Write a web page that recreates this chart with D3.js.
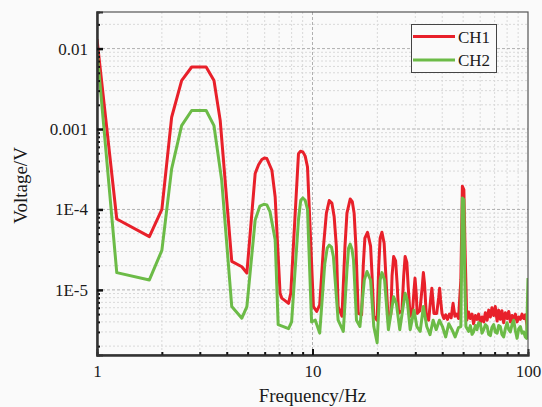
<!DOCTYPE html>
<html><head><meta charset="utf-8">
<script src="https://cdn.jsdelivr.net/npm/d3@7"></script>
<style>
html,body{margin:0;padding:0;background:#fafafa;}
svg{display:block;}
text{font-family:"Liberation Serif","Times New Roman",serif;fill:#1a1a1a;}
</style></head>
<body>
<svg id="chart" width="542" height="407"></svg>
<script>
// ---- data ----
const seriesNames = ["CH1", "CH2"];
const xTickLabels = ["1", "10", "100"];
const xTickValues = [1, 10, 100];
const yTickLabels = ["0.01", "0.001", "1E-4", "1E-5"];
const yTickValues = [0.01, 0.001, 1e-4, 1e-5];

const ch1Freq = [1.00,1.235,1.75,2.00,2.22,2.47,2.75,3.21,3.49,3.73,4.22,4.70,4.96,5.42,5.62,5.82,5.98,6.14,6.48,6.71,7.07,7.20,7.74,7.93,
  8.61,8.80,9.02,9.25,9.48,10.1,10.46,10.8,11.25,11.6,11.96,12.3,12.6,12.9,13.15,13.7,14.15,14.45,14.96,15.3,15.6,15.9,16.3,16.9,17.2,17.5,18.0,18.6,18.9,19.25,19.95,
  20.3,20.6,21.0,21.5,21.9,22.4,23.1,23.4,23.8,24.3,24.7,25.1,26.0,26.5,26.9,27.4,27.8,28.4,29.2,29.6,29.9,30.3,30.6,31.5,32.3,32.7,33.1,33.7,34.6,35.4,35.8,36.2,36.6,
  37.7,38.5,38.9,39.3,39.9,40.7,41.5,42.3,43.2,44.0,44.9,45.8,46.7,47.6,48.8,49.6,50.4,51.0,52.0,53.0,54.0,55.0,55.9,57.0,58.0,59.0,60.1,61.2,62.3,63.4,64.6,65.7,
  66.9,68.0,69.3,70.5,71.9,73.1,74.4,75.7,77.1,78.5,80.0,81.4,82.8,84.3,85.8,87.4,89.0,90.6,92.2,93.8,95.5,97.2,99.0,100];
const ch1Volt = [0.0131,7.6e-5,4.6e-5,1.0e-4,1.4e-3,4.0e-3,5.9e-3,5.9e-3,4.0e-3,1.28e-3,2.26e-5,1.94e-5,1.62e-5,2.8e-4,3.6e-4,4.17e-4,4.35e-4,4.3e-4,3.07e-4,1.43e-4,9.1e-6,7.9e-6,6.8e-6,9.1e-6,
  4.94e-4,5.3e-4,5.2e-4,4.6e-4,3.37e-4,6.2e-6,5.4e-6,6.5e-6,3.5e-5,9.0e-5,1.29e-4,1.2e-4,8.2e-5,3.5e-5,6.2e-6,4.7e-6,3.5e-5,9.0e-5,1.35e-4,1.25e-4,9.0e-5,3.5e-5,5.1e-6,4.9e-6,2.0e-5,4.4e-5,5.2e-5,3.5e-5,1.5e-5,4.7e-6,4.2e-6,
  2.0e-5,4.4e-5,5.2e-5,3.8e-5,1.5e-5,4.7e-6,5.0e-6,1.5e-5,2.6e-5,2.3e-5,1.2e-5,5.1e-6,5.5e-6,1.5e-5,2.6e-5,2.2e-5,1.1e-5,4.7e-6,6.0e-6,1.0e-5,1.4e-5,9.0e-6,5.1e-6,5.5e-6,1.1e-5,1.64e-5,1.2e-5,5.1e-6,4.2e-6,8.0e-6,1.05e-5,7.5e-6,5.1e-6,
  5.1e-6,8.0e-6,1.05e-5,7.5e-6,5.1e-6,4.4e-6,4.9e-6,4.3e-6,5.0e-6,4.5e-6,6.8e-6,4.7e-6,5.0e-6,4.4e-6,1.33e-5,1.94e-4,1.75e-4,3.5e-5,4.2e-6,5.3e-6,4.4e-6,5.0e-6,3.8e-6,4.8e-6,4.3e-6,5.0e-6,3.9e-6,4.6e-6,4.0e-6,5.2e-6,4.2e-6,5.6e-6,
  4.6e-6,6.0e-6,4.8e-6,6.2e-6,4.1e-6,5.6e-6,4.3e-6,5.5e-6,3.9e-6,5.2e-6,4.4e-6,5.4e-6,4.0e-6,4.8e-6,4.2e-6,5.0e-6,4.0e-6,4.6e-6,4.3e-6,5.0e-6,4.4e-6,4.9e-6,3.6e-6,2.5e-6];

const ch2Freq = [1.00,1.235,1.75,2.00,2.22,2.47,2.75,3.21,3.49,3.79,4.22,4.70,4.96,5.42,5.70,5.95,6.14,6.35,6.71,6.93,7.33,7.74,8.00,
  8.61,8.82,9.02,9.25,9.48,9.90,10.3,10.8,11.4,11.7,11.96,12.25,12.5,13.15,13.9,14.45,14.7,14.96,15.25,15.5,16.0,16.6,17.4,17.9,18.6,19.25,19.95,20.6,21.0,21.6,
  22.5,23.8,24.5,25.4,26.9,27.5,28.4,29.6,30.5,31.6,32.7,33.9,35.1,36.3,37.5,38.8,40.1,41.5,42.9,44.4,45.9,47.6,48.8,49.3,49.6,50.4,
  50.9,51.5,53.0,54.0,55.0,55.9,57.0,58.0,59.0,60.1,61.2,62.3,63.4,64.6,65.7,66.9,68.0,69.3,70.5,71.9,73.1,74.4,75.7,77.1,78.5,80.0,
  81.4,82.8,84.3,85.8,87.4,89.0,90.6,92.2,93.8,95.5,97.2,98.5,100];
const ch2Volt = [9.6e-3,1.64e-5,1.33e-5,3.1e-5,3.2e-4,1.1e-3,1.7e-3,1.7e-3,1.1e-3,2.3e-4,6.2e-6,4.45e-6,6.2e-6,7.4e-5,1.1e-4,1.16e-4,1.14e-4,9.4e-5,4.2e-5,3.7e-6,3.5e-6,3.3e-6,4.0e-6,
  7.5e-5,1.3e-4,1.39e-4,1.3e-4,1.0e-4,4.0e-6,4.2e-6,2.9e-6,2.1e-5,3.3e-5,3.6e-5,3.4e-5,2.6e-5,4.2e-6,3.05e-6,1.77e-5,3.3e-5,3.7e-5,3.2e-5,2.36e-5,4.2e-6,3.5e-6,1.33e-5,1.69e-5,1.33e-5,3.5e-6,2.2e-6,1.33e-5,1.64e-5,1.33e-5,
  3.2e-6,8.2e-6,6.8e-6,3.2e-6,9.1e-6,7.5e-6,3.2e-6,5.6e-6,3.5e-6,3.05e-6,6.2e-6,3.5e-6,2.77e-6,4.2e-6,3.2e-6,4.2e-6,3.5e-6,2.6e-6,3.8e-6,3.2e-6,2.6e-6,3.4e-6,3.5e-6,3.4e-5,1.39e-4,1.32e-4,
  1.33e-5,3.5e-6,3.05e-6,3.6e-6,2.8e-6,3.0e-6,3.6e-6,3.2e-6,3.9e-6,3.8e-6,2.9e-6,3.2e-6,3.7e-6,3.5e-6,2.8e-6,2.7e-6,3.4e-6,3.7e-6,3.0e-6,2.9e-6,3.6e-6,3.5e-6,2.8e-6,2.6e-6,3.3e-6,3.9e-6,
  3.2e-6,3.0e-6,3.7e-6,4.2e-6,3.1e-6,2.5e-6,3.3e-6,3.5e-6,2.9e-6,3.0e-6,2.6e-6,2.5e-6,1.4e-5];

const seriesColors = ["#e8202a", "#6cbb47"];

// ---- layout ----
const svg = d3.select("#chart");
const L = 97, R = 528, T = 12, B = 355;
const x = d3.scaleLog().domain([1, 100]).range([L, R]);
const y = d3.scaleLog().domain([1.55e-6, 0.0285]).range([B, T]);

svg.append("rect").attr("x", 0).attr("y", 0).attr("width", 542).attr("height", 407).attr("fill", "#fafafa");

const xMinor = [];
for (let d = 1; d <= 10; d *= 10) for (let k = 2; k <= 9; k++) xMinor.push(k * d);
const yMinor = [];
for (let e = -6; e <= -2; e++) for (let k = 2; k <= 9; k++) { const v = k * Math.pow(10, e); if (v >= 1.55e-6 && v <= 0.0285) yMinor.push(v); }

// grid
const grid = svg.append("g");
grid.selectAll(".gxm").data(xMinor).join("line")
  .attr("x1", d => x(d)).attr("x2", d => x(d)).attr("y1", T).attr("y2", B)
  .attr("stroke", "#d9d9d9").attr("stroke-width", 1).attr("stroke-dasharray", "2,2");
grid.selectAll(".gym").data(yMinor).join("line")
  .attr("y1", d => y(d)).attr("y2", d => y(d)).attr("x1", L).attr("x2", R)
  .attr("stroke", "#d9d9d9").attr("stroke-width", 1).attr("stroke-dasharray", "2,2");
grid.selectAll(".gxM").data([10]).join("line")
  .attr("x1", d => x(d)).attr("x2", d => x(d)).attr("y1", T).attr("y2", B)
  .attr("stroke", "#b0b0b0").attr("stroke-width", 1).attr("stroke-dasharray", "3,2");
grid.selectAll(".gyM").data(yTickValues).join("line")
  .attr("y1", d => y(d)).attr("y2", d => y(d)).attr("x1", L).attr("x2", R)
  .attr("stroke", "#b0b0b0").attr("stroke-width", 1).attr("stroke-dasharray", "3,2");

// lines
const line = d3.line().x(d => x(d[0])).y(d => y(d[1]));
const data1 = ch1Freq.map((f, i) => [f, ch1Volt[i]]);
const data2 = ch2Freq.map((f, i) => [f, ch2Volt[i]]);
svg.append("clipPath").attr("id", "clip").append("rect")
  .attr("x", L).attr("y", T).attr("width", R - L).attr("height", B - T);
const lg = svg.append("g").attr("clip-path", "url(#clip)");
lg.append("path").datum(data1).attr("d", line).attr("fill", "none")
  .attr("stroke", seriesColors[0]).attr("stroke-width", 3).attr("stroke-linejoin", "round");
lg.append("path").datum(data2).attr("d", line).attr("fill", "none")
  .attr("stroke", seriesColors[1]).attr("stroke-width", 3).attr("stroke-linejoin", "round");

// frame
svg.append("rect").attr("x", L).attr("y", T).attr("width", R - L).attr("height", B - T)
  .attr("fill", "none").attr("stroke", "#555").attr("stroke-width", 1.2);

// axes
const fmtY = d => yTickLabels[yTickValues.indexOf(d)];
const fmtX = d => xTickLabels[xTickValues.indexOf(d)];

const yMinorAxis = svg.append("g").attr("transform", `translate(${L},0)`)
  .call(d3.axisLeft(y).tickValues(yMinor).tickSize(-3).tickFormat(""));
const yAxis = svg.append("g").attr("transform", `translate(${L},0)`)
  .call(d3.axisLeft(y).tickValues(yTickValues).tickSize(-6).tickPadding(9).tickFormat(fmtY));
const xMinorAxis = svg.append("g").attr("transform", `translate(0,${B})`)
  .call(d3.axisBottom(x).tickValues(xMinor.filter(v => v !== 10)).tickSize(-3).tickFormat(""));
const xAxis = svg.append("g").attr("transform", `translate(0,${B})`)
  .call(d3.axisBottom(x).tickValues(xTickValues).tickSize(-6).tickPadding(10).tickFormat(fmtX));

[yMinorAxis, yAxis, xMinorAxis, xAxis].forEach(g => {
  g.select(".domain").attr("stroke", "#333").attr("stroke-width", 2);
  g.selectAll(".tick line").attr("stroke", "#111").attr("stroke-width", 2);
  g.selectAll(".tick text").attr("font-size", 17).attr("font-family", "Liberation Serif").attr("fill", "#1a1a1a");
});
yAxis.selectAll(".tick line").attr("stroke-width", 2.5);
xAxis.selectAll(".tick").filter(d => d === 1 || d === 100).select("line").attr("opacity", 0);

// titles
svg.append("text").attr("x", (L + R) / 2).attr("y", 402).attr("text-anchor", "middle")
  .attr("font-size", 19).text("Frequency/Hz");
svg.append("text").attr("transform", `translate(27,${(T + B) / 2 + 2}) rotate(-90)`)
  .attr("text-anchor", "middle").attr("font-size", 19).text("Voltage/V");

// legend
const leg = svg.append("g");
leg.append("rect").attr("x", 411.5).attr("y", 24.5).attr("width", 85).attr("height", 48)
  .attr("fill", "#fafafa").attr("stroke", "#444").attr("stroke-width", 1);
seriesNames.forEach((n, i) => {
  const yy = 36.5 + i * 23.5;
  leg.append("line").attr("x1", 413).attr("x2", 455).attr("y1", yy).attr("y2", yy)
    .attr("stroke", seriesColors[i]).attr("stroke-width", 3);
  leg.append("text").attr("x", 458).attr("y", yy + 6).attr("font-size", 17).text(n);
});
</script>
</body></html>
